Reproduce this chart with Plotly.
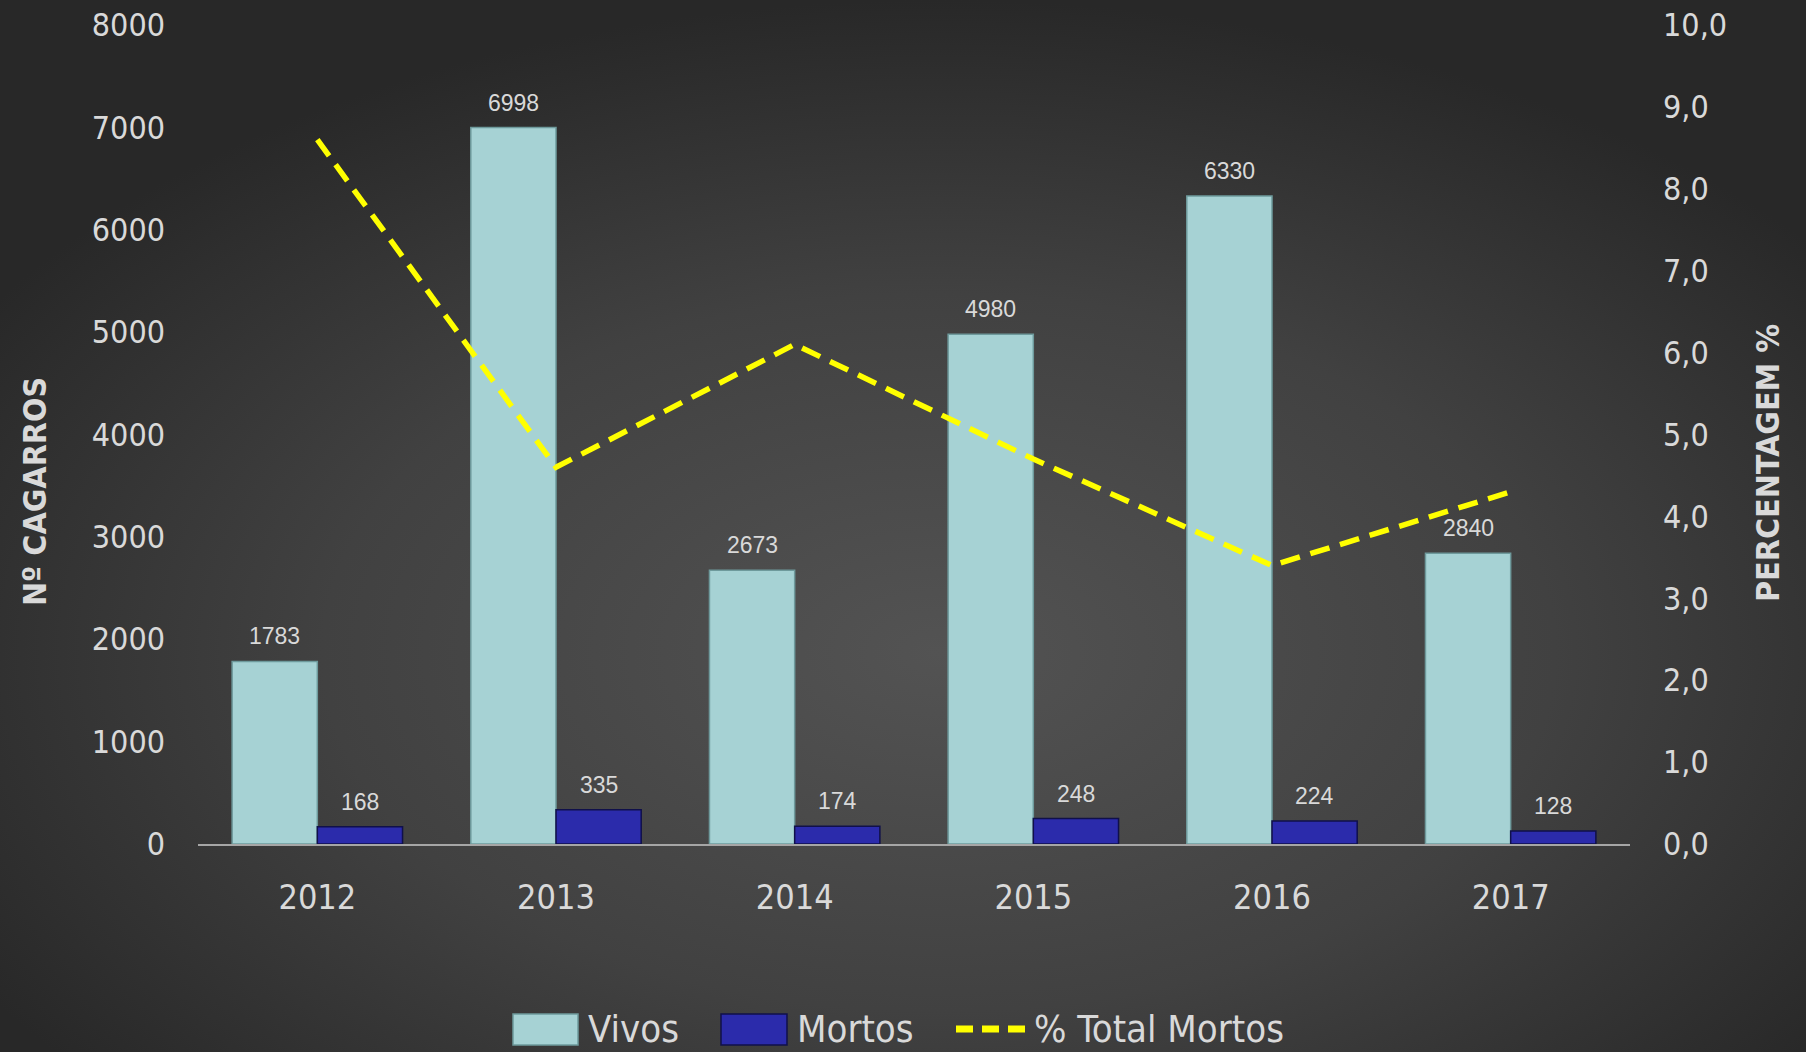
import base64
import plotly.graph_objects as go

years = ["2012", "2013", "2014", "2015", "2016", "2017"]
vivos = [1783, 6998, 2673, 4980, 6330, 2840]
mortos = [168, 335, 174, 248, 224, 128]
pct_mortos = [8.6, 4.6, 6.1, 4.7, 3.4, 4.3]
y_ticks = [0, 1000, 2000, 3000, 4000, 5000, 6000, 7000, 8000]
y2_ticks = [0, 1, 2, 3, 4, 5, 6, 7, 8, 9, 10]

W, H = 1806, 1052
PL, PR, PT, PB = 198, 1630, 25, 844  # plot area in pixels

COND = "DejaVu Sans Condensed, Liberation Sans Narrow, sans-serif"
ARIAL = "Liberation Sans, Arial, sans-serif"
TXT = "#d9d9d9"
C_VIVOS = "#a6d2d4"
C_MORTOS = "#2b2bab"
C_LINE = "#ffff00"

svg = f'''<svg xmlns="http://www.w3.org/2000/svg" width="{W}" height="{H}" viewBox="0 0 {W} {H}" preserveAspectRatio="none">
<defs><radialGradient id="g" cx="52%" cy="62%" r="62%" fx="52%" fy="62%">
<stop offset="0%" stop-color="#535353"/><stop offset="55%" stop-color="#414141"/><stop offset="100%" stop-color="#282828"/>
</radialGradient></defs><rect width="100%" height="100%" fill="url(#g)"/></svg>'''
bg_src = "data:image/svg+xml;base64," + base64.b64encode(svg.encode()).decode()

fig = go.Figure()
fig.add_trace(go.Bar(
    x=years, y=vivos, name="Vivos", marker=dict(color=C_VIVOS, line=dict(color="#6e9a9c", width=1.5)),
    offsetgroup="v", hoverinfo="x+y"))
fig.add_trace(go.Bar(
    x=years, y=mortos, name="Mortos", marker=dict(color=C_MORTOS, line=dict(color="#10104a", width=1.5)),
    offsetgroup="m", hoverinfo="x+y"))
fig.add_trace(go.Scatter(
    x=years, y=pct_mortos, name="% Total Mortos", yaxis="y2", mode="lines",
    line=dict(color=C_LINE, width=5.5, dash="20px,11px")))

cat_w = (PR - PL) / len(years)
bar_w = cat_w * 0.357
annotations = []
for i, (v, m) in enumerate(zip(vivos, mortos)):
    annotations.append(dict(x=i, y=v, xref="x", yref="y", text=str(v), showarrow=False,
                            yanchor="bottom", xshift=-bar_w / 2, yshift=10,
                            font=dict(family=ARIAL, size=23, color=TXT)))
    annotations.append(dict(x=i, y=m, xref="x", yref="y", text=str(m), showarrow=False,
                            yanchor="bottom", xshift=bar_w / 2, yshift=10,
                            font=dict(family=ARIAL, size=23, color=TXT)))

# axis titles
annotations.append(dict(x=35 / W, y=1 - 492 / H, xref="paper", yref="paper", text="<b>Nº CAGARROS</b>",
                        textangle=-90, showarrow=False, xanchor="center", yanchor="middle",
                        font=dict(family=COND, size=32, color=TXT)))
annotations.append(dict(x=1768 / W, y=1 - 463 / H, xref="paper", yref="paper", text="<b>PERCENTAGEM %</b>",
                        textangle=-90, showarrow=False, xanchor="center", yanchor="middle",
                        font=dict(family=COND, size=32, color=TXT)))

# custom legend
ly = 1029
def py(p):
    return 1 - p / H
def px(p):
    return p / W
shapes = [
    dict(type="rect", xref="paper", yref="paper", x0=px(513), x1=px(578), y0=py(1045), y1=py(1014),
         fillcolor=C_VIVOS, line=dict(color="#6e9a9c", width=1.5)),
    dict(type="rect", xref="paper", yref="paper", x0=px(721), x1=px(787), y0=py(1045), y1=py(1014),
         fillcolor=C_MORTOS, line=dict(color="#10104a", width=1.5)),
    dict(type="line", xref="paper", yref="paper", x0=px(956), x1=px(1026), y0=py(ly), y1=py(ly),
         line=dict(color=C_LINE, width=7, dash="17px,9px")),
]
for txt, xl in [("Vivos", 586), ("Mortos", 795), ("% Total Mortos", 1032)]:
    annotations.append(dict(x=px(xl), y=py(ly), xref="paper", yref="paper", text=txt, showarrow=False,
                            xanchor="left", yanchor="middle", font=dict(family=COND, size=38, color=TXT)))

fig.update_layout(
    width=W, height=H,
    margin=dict(l=0, r=0, t=0, b=0, autoexpand=False),
    paper_bgcolor="#333333", plot_bgcolor="rgba(0,0,0,0)",
    separators=",.",
    barmode="group", bargap=0.286, bargroupgap=0,
    showlegend=False,
    images=[dict(source=bg_src, xref="paper", yref="paper", x=0, y=1, sizex=1, sizey=1,
                 sizing="stretch", layer="below", xanchor="left", yanchor="top")],
    xaxis=dict(type="category", range=[-0.5, len(years) - 0.5], domain=[PL / W, PR / W],
               showgrid=False, showline=True, linecolor="#a6a6a6",
               linewidth=2, ticks="", automargin=False,
               tickfont=dict(family=COND, size=34, color=TXT), ticklabelstandoff=22,
               zeroline=False),
    yaxis=dict(domain=[1 - PB / H, 1 - PT / H], range=[0, 8000], tickvals=y_ticks, showgrid=False,
               zeroline=False, showline=False, ticks="", automargin=False,
               tickfont=dict(family=COND, size=32, color=TXT), ticklabelstandoff=32),
    yaxis2=dict(overlaying="y", side="right", range=[0, 10], tickvals=y2_ticks, tickformat=".1f",
                showgrid=False, zeroline=False, showline=False, ticks="", automargin=False,
                tickfont=dict(family=COND, size=32, color=TXT), ticklabelstandoff=32),
    annotations=annotations,
    shapes=shapes,
)

fig.write_html("out.html", config={"displayModeBar": False},
               post_script="document.body.style.margin='0';")
